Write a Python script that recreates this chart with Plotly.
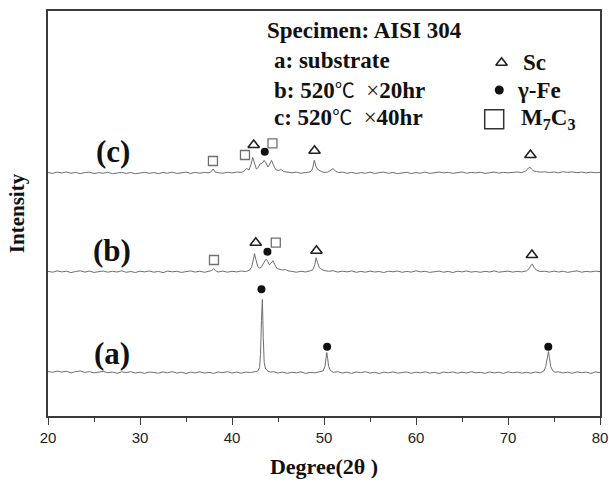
import plotly.graph_objects as go

# ---- XRD patterns (raw intensity, a.u.) ----
a_x = [20.0,20.5,21.0,21.5,22.0,22.5,23.0,23.5,24.0,24.5,25.0,25.5,26.0,26.5,27.0,27.5,28.0,28.5,29.0,29.5,
       30.0,30.5,31.0,31.5,32.0,32.5,33.0,33.5,34.0,34.5,35.0,35.5,36.0,36.5,37.0,37.5,38.0,38.5,39.0,39.5,
       40.0,40.5,41.0,41.5,42.0,42.5,42.8,43.0,43.1,43.2,43.3,43.4,43.5,43.65,43.9,44.2,44.5,45.0,45.5,46.0,
       46.5,47.0,47.5,48.0,48.5,49.0,49.5,49.9,50.1,50.2,50.3,50.4,50.5,50.7,51.0,51.5,52.0,52.5,53.0,53.5,
       54.0,54.5,55.0,55.5,56.0,56.5,57.0,57.5,58.0,58.5,59.0,59.5,60.0,60.5,61.0,61.5,62.0,62.5,63.0,63.5,
       64.0,64.5,65.0,65.5,66.0,66.5,67.0,67.5,68.0,68.5,69.0,69.5,70.0,70.5,71.0,71.5,72.0,72.5,73.0,73.5,
       73.9,74.1,74.25,74.4,74.5,74.65,74.85,75.1,75.5,76.0,76.5,77.0,77.5,78.0,78.5,79.0,79.5,80.0]
a_y = [1.0,0.2,1.4,0.5,1.2,-0.3,0.8,1.5,0.1,0.9,-0.4,0.6,1.1,-0.2,0.4,-0.8,0.7,-0.1,0.9,-0.6,
       0.3,-0.9,0.5,0.0,-0.7,0.6,-0.3,0.8,-0.5,0.2,-1.0,0.4,-0.4,0.7,-0.6,0.1,-0.8,0.5,-0.2,0.9,
       -0.5,0.3,-0.7,0.4,0.0,0.8,1.5,5,18,52,73,35,10,3.5,1.5,0.3,0.9,-0.6,0.4,-0.8,
       0.2,-0.4,0.6,-0.9,0.1,-0.3,0.7,1.5,6,13,20,14,6,2,0.2,0.8,-0.5,0.3,-0.9,0.5,
       -0.2,0.8,-0.6,0.2,-1.0,0.4,-0.3,0.6,-0.7,0.0,0.5,-0.8,0.3,-0.4,0.7,-0.6,0.1,-0.9,0.4,-0.2,
       0.6,-0.7,0.2,-0.5,0.8,-0.3,0.1,-0.8,0.5,-0.4,0.3,-0.9,0.6,-0.2,0.4,-0.6,0.2,-0.7,0.5,-0.3,
       1.5,6,14,21,15,6,2,0.3,0.7,-0.5,0.3,-0.8,0.6,-0.2,0.4,-0.9,0.5,-0.1]

b_x = [20.0,20.5,21.0,21.5,22.0,22.5,23.0,23.5,24.0,24.5,25.0,25.5,26.0,26.5,27.0,27.5,28.0,28.5,29.0,29.5,
       30.0,30.5,31.0,31.5,32.0,32.5,33.0,33.5,34.0,34.5,35.0,35.5,36.0,36.5,37.0,37.5,37.8,38.0,38.2,38.5,
       39.0,39.5,40.0,40.5,41.0,41.5,41.9,42.15,42.3,42.45,42.6,42.8,43.0,43.2,43.45,43.7,43.85,44.05,44.25,44.45,
       44.65,44.9,45.2,45.5,45.8,46.1,46.5,47.0,47.5,48.0,48.5,48.8,49.0,49.15,49.3,49.5,49.7,50.0,50.5,51.0,
       51.5,52.0,52.5,53.0,53.5,54.0,54.5,55.0,55.5,56.0,56.5,57.0,57.5,58.0,58.5,59.0,59.5,60.0,60.5,61.0,
       61.5,62.0,62.5,63.0,63.5,64.0,64.5,65.0,65.5,66.0,66.5,67.0,67.5,68.0,68.5,69.0,69.5,70.0,70.5,71.0,
       71.5,72.0,72.3,72.5,72.65,72.85,73.1,73.5,74.0,74.5,75.0,75.5,76.0,76.5,77.0,77.5,78.0,78.5,79.0,79.5,80.0]
b_y = [0.3,-0.5,0.8,-0.2,0.5,-0.9,0.2,0.9,-0.4,0.6,-0.7,0.1,0.7,-0.5,0.4,-0.3,0.9,-0.6,0.2,-0.8,
       0.5,-0.2,0.7,-0.5,0.3,-0.9,0.6,-0.1,0.4,-0.7,0.2,0.8,-0.4,0.5,-0.6,0.3,1.2,3.0,1.0,-0.3,
       0.6,-0.5,0.4,-0.2,0.7,0.2,1.5,5,12,18,12,5,3.5,4.5,9,12.5,11,7,8.5,11,
       7,3,2.5,1.5,2.2,0.8,0.3,-0.5,0.4,-0.3,0.9,2,7,14,9,4,2.5,1.2,0.4,1.0,
       -0.4,0.5,-0.2,0.8,-0.6,0.3,-0.5,0.6,-0.3,0.2,-0.8,0.5,-0.1,0.7,-0.6,0.3,-0.4,0.9,-0.2,0.4,
       -0.7,0.1,0.6,-0.5,0.3,-0.8,0.5,-0.2,0.7,-0.4,0.2,-0.6,0.4,-0.3,0.8,-0.5,0.1,0.6,-0.4,0.3,
       -0.2,0.8,3,6.5,7.5,4,1.5,0.2,0.5,-0.4,0.6,-0.3,0.4,-0.7,0.2,0.8,-0.5,0.3,-0.2,0.6,0.1]

c_x = [20.0,20.5,21.0,21.5,22.0,22.5,23.0,23.5,24.0,24.5,25.0,25.5,26.0,26.5,27.0,27.5,28.0,28.5,29.0,29.5,
       30.0,30.5,31.0,31.5,32.0,32.5,33.0,33.5,34.0,34.5,35.0,35.5,36.0,36.5,37.0,37.5,37.75,37.95,38.15,38.5,
       39.0,39.5,40.0,40.5,41.0,41.3,41.6,41.85,42.05,42.25,42.45,42.65,42.85,43.05,43.3,43.5,43.7,43.9,44.1,44.3,
       44.5,44.75,45.0,45.35,45.6,46.0,46.5,47.0,47.5,48.0,48.5,48.75,48.95,49.15,49.4,49.7,50.0,50.4,50.75,51.0,
       51.25,51.6,52.0,52.5,53.0,53.5,54.0,54.5,55.0,55.5,56.0,56.5,57.0,57.5,58.0,58.5,59.0,59.5,60.0,60.5,
       61.0,61.5,62.0,62.5,63.0,63.5,64.0,64.5,65.0,65.5,66.0,66.5,67.0,67.5,68.0,68.5,69.0,69.5,70.0,70.5,
       71.0,71.5,71.9,72.15,72.35,72.55,72.8,73.1,73.5,74.0,74.5,75.0,75.5,76.0,76.5,77.0,77.5,78.0,78.5,79.0,79.5,80.0]
c_y = [0.5,-0.4,0.9,0.1,1.0,-0.3,0.6,-0.6,0.4,0.8,-0.5,0.3,-0.2,0.7,-0.7,0.2,0.6,-0.4,0.5,-0.8,
       0.1,0.7,-0.3,0.4,-0.6,0.5,-0.2,0.8,-0.5,0.3,0.9,-0.4,0.6,-0.1,0.5,0.2,1.5,4,1.2,0.3,
       -0.2,0.7,0.1,0.9,0.6,1.8,4.5,3,8,15.5,9,4,5.5,9,10,12.7,10,6,9,12.7,
       8,3.5,2.5,3.5,1.5,1.0,0.2,0.8,-0.3,0.5,1.0,4,12.7,6,3,1.5,0.6,0.8,2.5,4.4,
       1.8,0.4,0.9,-0.3,0.6,-0.5,0.4,-0.2,0.8,-0.4,0.3,0.9,-0.3,0.5,-0.6,0.2,0.7,-0.5,0.4,-0.2,
       0.9,-0.4,0.3,1.0,0.2,0.6,-0.3,0.5,1.0,-0.2,0.6,0.1,0.8,-0.4,0.5,0.9,-0.1,0.6,0.2,0.8,
       1.0,0.4,1.8,4,6,4,2,1.6,0.8,1.2,0.5,1.0,0.2,1.3,0.6,1.1,0.3,0.9,0.2,0.8,0.3,0.6]

# vertical stacking offsets of the three patterns
offsets = {"a": 43.5, "b": 144.3, "c": 243.0}
trace_labels = ["(a)", "(b)", "(c)"]

# phase markers (x in degrees, y in plotted units)
sc_x = [42.36, 48.97, 72.44, 42.58, 49.18, 72.60]
sc_y = [271.0, 265.3, 261.0, 173.3, 165.3, 161.0]
fe_x = [43.56, 43.85, 43.20, 50.34, 74.38]
fe_y = [264.3, 164.3, 126.7, 69.3, 69.3]
m7_x = [37.93, 41.41, 44.40, 38.04, 44.76]
m7_y = [255.0, 261.0, 272.7, 156.0, 173.3]

fig = go.Figure()
line_col = "#6e6e6e"
for xs, ys, k in [(a_x, a_y, "a"), (b_x, b_y, "b"), (c_x, c_y, "c")]:
    fig.add_trace(go.Scatter(x=xs, y=[v + offsets[k] for v in ys], mode="lines",
                             line=dict(color=line_col, width=1), showlegend=False, hoverinfo="skip"))

fig.add_trace(go.Scatter(x=sc_x, y=sc_y, mode="markers", showlegend=False,
                         marker=dict(symbol="triangle-up-open", size=10, color="#222",
                                     line=dict(width=1.6, color="#222"))))
fig.add_trace(go.Scatter(x=fe_x, y=fe_y, mode="markers", showlegend=False,
                         marker=dict(symbol="circle", size=8, color="#111")))
fig.add_trace(go.Scatter(x=m7_x, y=m7_y, mode="markers", showlegend=False,
                         marker=dict(symbol="square-open", size=9, color="#707070",
                                     line=dict(width=1.3, color="#707070"))))

# in-plot legend symbols
fig.add_trace(go.Scatter(x=[69.3], y=[353.3], mode="markers", showlegend=False,
                         marker=dict(symbol="triangle-up-open", size=10, color="#222",
                                     line=dict(width=1.6, color="#222"))))
fig.add_trace(go.Scatter(x=[69.05], y=[326.0], mode="markers", showlegend=False,
                         marker=dict(symbol="circle", size=9, color="#111")))
fig.add_trace(go.Scatter(x=[68.5], y=[296.7], mode="markers", showlegend=False,
                         marker=dict(symbol="square-open", size=19, color="#333",
                                     line=dict(width=1.5, color="#333"))))

serif = "Liberation Serif, Times New Roman, serif"
txt = dict(family=serif, size=23, color="#111", weight="bold")
nb = "\u00a0"
cjk = "<span style='font-family:Noto Sans CJK SC;font-weight:normal;font-size:20px'>℃</span>"
times = "<span style='font-weight:normal'>×</span>"
notes = [
    (43.62, 386.0, "Specimen: AISI 304"),
    (44.38, 356.0, "a: substrate"),
    (44.38, 327.0, "b: 520" + cjk + nb + nb + times + "20hr"),
    (44.38, 299.3, "c: 520" + cjk + nb + nb + times + "40hr"),
    (71.45, 353.3, "Sc"),
    (70.72, 326.0, "γ-Fe"),
    (71.15, 296.7, "M<sub>7</sub>C<sub>3</sub>"),
]
for x, y, t in notes:
    fig.add_annotation(x=x, y=y, text=t, showarrow=False, xanchor="left", yanchor="middle",
                       font=txt)
for (x, y), t in zip([(27.0, 63.0), (27.0, 166.0), (27.1, 264.5)], trace_labels):
    fig.add_annotation(x=x, y=y, text=t, showarrow=False, xanchor="center", yanchor="middle",
                       font=dict(family=serif, size=31, color="#111", weight="bold"))

axis_col = "#3a3a3a"
fig.update_layout(
    width=609, height=485,
    margin=dict(l=48, r=9, t=11, b=69),
    paper_bgcolor="white", plot_bgcolor="white",
    xaxis=dict(range=[20, 80], dtick=10, tick0=20, ticks="outside", ticklen=7, tickwidth=1.3,
               tickcolor=axis_col, showline=True, linecolor=axis_col, linewidth=1.6, mirror=True,
               showgrid=False, zeroline=False, automargin=False,
               tickfont=dict(family="Liberation Sans, Arial, sans-serif", size=15, color="#222"),
               minor=dict(dtick=5, ticks="outside", ticklen=4, tickwidth=1.2, tickcolor=axis_col),
               title=dict(text="Degree(2θ )", standoff=14,
                          font=dict(family=serif, size=22, color="#111", weight="bold"))),
    yaxis=dict(range=[0, 405], showticklabels=False, ticks="", showline=True, linecolor=axis_col,
               linewidth=1.6, mirror=True, showgrid=False, zeroline=False, automargin=False,
               title=dict(text="Intensity", standoff=16,
                          font=dict(family=serif, size=21, color="#111", weight="bold"))),
)
fig.write_html("out.html", config={"displayModeBar": False},
               post_script="document.body.style.margin='0';")
